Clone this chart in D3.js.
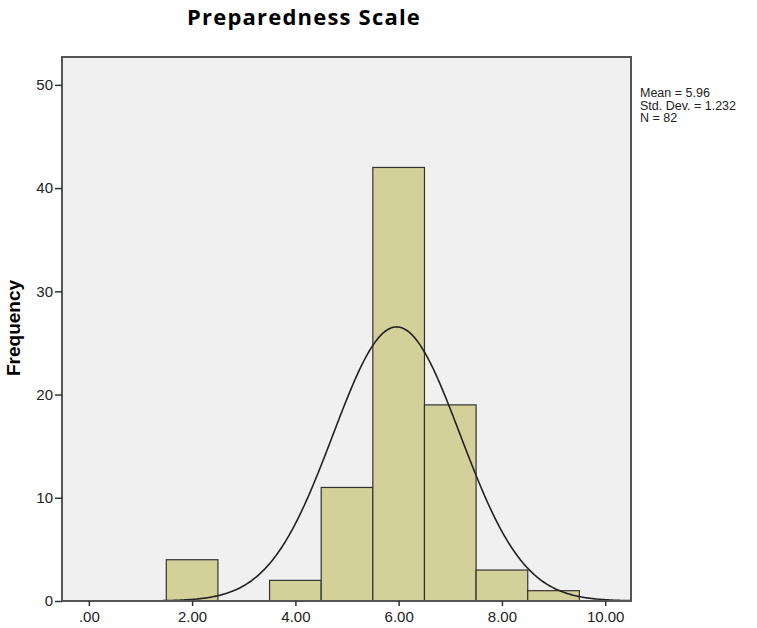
<!DOCTYPE html>
<html lang="en">
<head>
<meta charset="UTF-8" />
<title>Preparedness Scale</title>
<script src="https://d3js.org/d3.v7.min.js"></script>
<style>
  body { margin: 0; background: #fff; }
  svg { display: block; }
  .tick text { font-family: "Liberation Sans Narrow", "Liberation Sans", Arial, sans-serif; font-size: 15px; fill: #222; }
</style>
</head>
<body>
<svg width="757" height="628"></svg>
<script>
  // histogram bins (centre value) and counts
  const binCentres = [2, 4, 5, 6, 7, 8, 9];
  const counts = [4, 2, 11, 42, 19, 3, 1];
  const xTicks = [0, 2, 4, 6, 8, 10];
  const yTicks = [0, 10, 20, 30, 40, 50];
  const statMean = 5.96;
  const statSd = 1.232;
  const statN = 82;
  const statLines = ["Mean = 5.96", "Std. Dev. = 1.232", "N = 82"];

  const svg = d3.select("svg");
  const plotL = 62, plotR = 631, plotT = 57, plotB = 601;

  const x = d3.scaleLinear().domain([-0.52, 10.5]).range([plotL, plotR]);
  const y = d3.scaleLinear().domain([0, 52.7]).range([plotB, plotT]);

  // title
  svg.append("text")
    .attr("x", 304).attr("y", 25)
    .attr("text-anchor", "middle")
    .style("font-family", "'Open Sans', sans-serif")
    .style("font-weight", "bold")
    .style("font-size", "22px")
    .style("letter-spacing", "1.2px")
    .text("Preparedness Scale");

  // plot background
  svg.append("rect")
    .attr("x", plotL).attr("y", plotT)
    .attr("width", plotR - plotL).attr("height", plotB - plotT)
    .attr("fill", "#f0f0f0");

  // bars
  svg.selectAll("rect.bar")
    .data(binCentres.map((c, i) => ({ c, n: counts[i] })))
    .enter().append("rect")
    .attr("class", "bar")
    .attr("x", d => x(d.c - 0.5))
    .attr("width", d => x(d.c + 0.5) - x(d.c - 0.5))
    .attr("y", d => y(d.n))
    .attr("height", d => y(0) - y(d.n))
    .attr("fill", "#d4d09a")
    .attr("stroke", "#333")
    .attr("stroke-width", 1.2);

  // fitted normal curve from the stated mean / sd / N (bin width 1)
  const pdf = v => statN / (statSd * Math.sqrt(2 * Math.PI)) *
    Math.exp(-0.5 * Math.pow((v - statMean) / statSd, 2));
  const curveXs = d3.range(-0.52, 10.5, 0.02);
  svg.append("path")
    .datum(curveXs)
    .attr("d", d3.line().x(v => x(v)).y(v => y(pdf(v))))
    .attr("fill", "none")
    .attr("stroke", "#222")
    .attr("stroke-width", 1.6);

  // frame
  svg.append("rect")
    .attr("x", plotL).attr("y", plotT)
    .attr("width", plotR - plotL).attr("height", plotB - plotT)
    .attr("fill", "none")
    .attr("stroke", "#555")
    .attr("stroke-width", 2);

  // axes
  const yAxis = svg.append("g")
    .attr("transform", `translate(${plotL},0)`)
    .call(d3.axisLeft(y).tickValues(yTicks).tickSize(7).tickPadding(2));
  yAxis.select(".domain").remove();
  yAxis.selectAll(".tick line").attr("stroke", "#333").attr("stroke-width", 1.5);

  const xAxis = svg.append("g")
    .attr("transform", `translate(0,${plotB})`)
    .call(d3.axisBottom(x).tickValues(xTicks).tickSize(5).tickPadding(5)
      .tickFormat(d => d === 0 ? ".00" : d3.format(".2f")(d)));
  xAxis.select(".domain").remove();
  xAxis.selectAll(".tick line").attr("stroke", "#333").attr("stroke-width", 1.5);

  // y label
  svg.append("text")
    .attr("transform", "translate(20,328) rotate(-90)")
    .attr("text-anchor", "middle")
    .style("font-family", "'Liberation Sans', Arial, sans-serif")
    .style("font-weight", "bold")
    .style("font-size", "19px")
    .text("Frequency");

  // stats box text
  svg.append("g").selectAll("text")
    .data(statLines)
    .enter().append("text")
    .attr("x", 640)
    .attr("y", (d, i) => 97 + i * 12.5)
    .style("font-family", "'Liberation Sans', Arial, sans-serif")
    .style("font-size", "12.5px")
    .attr("fill", "#222")
    .text(d => d);
</script>
</body>
</html>
